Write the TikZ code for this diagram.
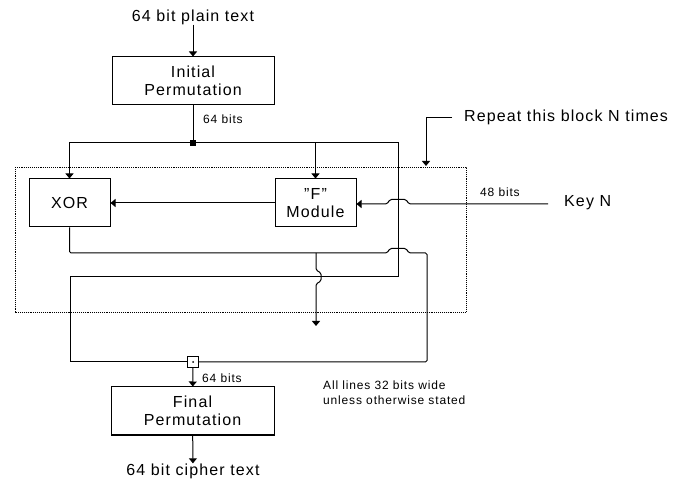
\documentclass[tikz,border=0pt]{standalone}
\usepackage{fontspec}
\setmainfont{Liberation Sans}[LetterSpace=7]
\usetikzlibrary{arrows.meta}
\begin{document}
\begin{tikzpicture}[x=1pt,y=-1pt,
  wire/.style={line width=1pt},
  arr/.style={wire,-{Triangle[length=5pt,width=8pt]}},
  box/.style={draw,line width=1pt,inner sep=0pt,align=center,minimum height=48pt,
    font=\fontsize{16}{18}\selectfont},
  lbl/.style={inner sep=0pt,font=\fontsize{16}{18}\selectfont},
  small/.style={inner sep=0pt,font=\fontsize{12}{14.5}\selectfont},
  hop/.style={rounded corners=1.5pt}]
\useasboundingbox (0,0) rectangle (689,481);

% boxes
\node[box,minimum width=162pt] (ip) at (193,81) {Initial\\Permutation};
\node[box,minimum width=81pt] (xor) at (69.5,203) {XOR};
\node[box,minimum width=81pt] (fm) at (315.5,203) {"F"\\Module};
\node[box,minimum width=163pt] (fp) at (192.5,411) {Final\\Permutation};

% texts
\node[lbl] (plain) at (193,17) {64 bit plain text};
\node[lbl] (cipher) at (193,471) {64 bit cipher text};
\node[lbl,anchor=west] (key) at (564,203) {Key N};
\node[lbl,anchor=west] (repeat) at (464,117) {Repeat this block N times};
\node[small,anchor=west] (b64a) at (203,119) {64 bits};
\node[small,anchor=west] (b48) at (480,192) {48 bits};
\node[small,anchor=west] (b64b) at (202,378) {64 bits};
\node[small,anchor=north west,align=left] (note) at (323,381) {All lines 32 bits wide\\unless otherwise stated};

% junctions
\node[fill,minimum size=6pt,inner sep=0pt] (j1) at (193,143) {};
\node[draw,fill=white,line width=1pt,minimum size=11pt,inner sep=0pt] (j2) at (193,362) {};
\fill (j2.center) circle (1pt);

% bend points
\coordinate (tr) at (398,143);
\coordinate (rb) at (398,277);
\coordinate (lb) at (70,277);
\coordinate (ll) at (70,362);
\coordinate (xr) at (427,253);
\coordinate (xd) at (427,362);
\coordinate (br) at (316,253);
\coordinate (bo) at (316,326);
\coordinate (keyend) at (548,204);
\coordinate (rp1) at (452,118);
\coordinate (rp2) at (426,118);
\coordinate (rp3) at (426,166);

% repeated block outline
\draw[densely dotted,line width=0.9pt] (15,167) rectangle (466,312);

% main flow
\draw[arr] (plain) -- (ip);
\draw[wire] (ip) -- (j1);
\draw[arr] (j1) -| (xor.north);
\draw[arr] (j1) -| (fm.north);
\draw[wire] (j1) -- (tr) -- (rb) -- (lb) -- (ll) -- (j2.west);
\draw[arr] (fm.west) -- (xor.east);

% key input hopping over the right-hand wire
\draw[arr,hop] (keyend) -- (409,204) -- (406,199.5) -- (390,199.5) -- (387,204) -- (fm.east |- 0,204);

% XOR output hopping over the right-hand wire
\draw[wire,hop] (xor.south) |- (387,253) -- (390,248.5) -- (406,248.5) -- (409,253) -- (xr) -- (xd) -- (j2.east);

% branch down with a hop across the return wire
\draw[arr,hop] (br) -- (316,270) -- (321,273) -- (321,281) -- (316,284) -- (bo);

\draw[arr] (j2) -- (fp);
\draw[arr] (fp) -- (cipher);

% repeat marker
\draw[arr] (rp1) -- (rp2) -- (rp3);
\end{tikzpicture}
\end{document}
